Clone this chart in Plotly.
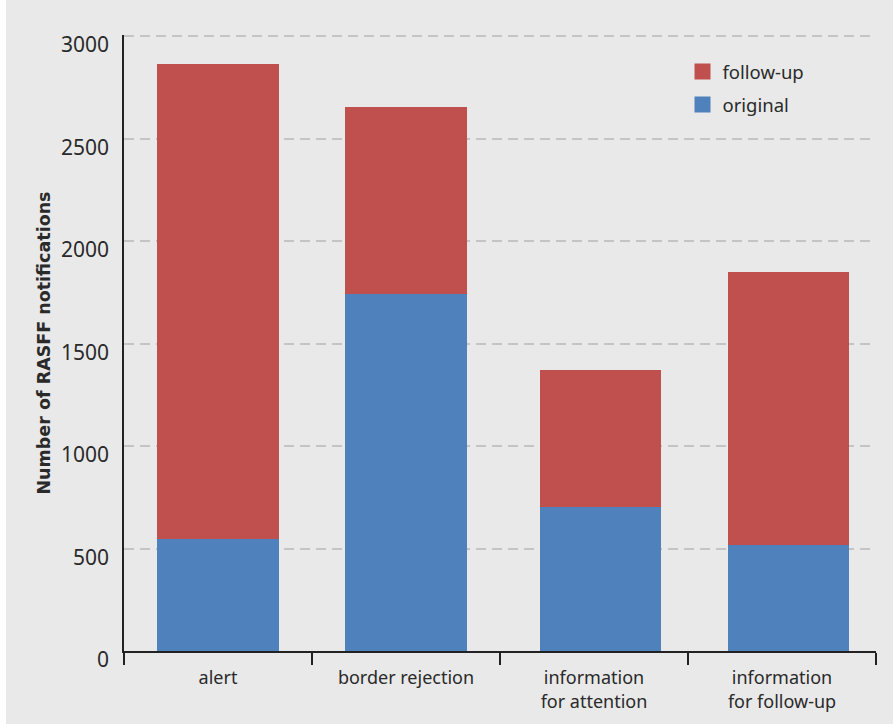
import plotly.graph_objects as go

categories = ["alert", "border rejection", "information<br>for attention", "information<br>for follow-up"]
original = [547, 1742, 703, 518]
follow_up = [2315, 911, 667, 1330]
y_ticks = [0, 500, 1000, 1500, 2000, 2500, 3000]

RED = "#C0504D"
BLUE = "#4F81BD"
BG = "#E9E9E9"
TXT = "#2a2a2a"
FONT = "Noto Sans"

BAR_W = 0.644
BAR_OFF = [-0.322, -0.322, -0.288, -0.288]

fig = go.Figure()
fig.add_trace(go.Bar(x=categories, y=original, name="original", width=BAR_W, offset=BAR_OFF,
                     marker=dict(color=BLUE, line=dict(width=0)), showlegend=False))
fig.add_trace(go.Bar(x=categories, y=follow_up, name="follow-up", width=BAR_W, offset=BAR_OFF,
                     marker=dict(color=RED, line=dict(width=0)), showlegend=False))

# legend entries (square swatches)
fig.add_trace(go.Scatter(x=[None], y=[None], mode="markers", name="follow-up", legendgroup="a",
                         marker=dict(symbol="square", size=19, color=RED)))
fig.add_trace(go.Scatter(x=[None], y=[None], mode="markers", name="original", legendgroup="b",
                         marker=dict(symbol="square", size=19, color=BLUE)))

fig.update_layout(
    width=893, height=724,
    barmode="stack",
    paper_bgcolor=BG, plot_bgcolor=BG,
    margin=dict(l=124, r=17, t=35, b=73, autoexpand=False),
    font=dict(family=FONT, size=18, color=TXT),
    legend=dict(x=0.7427, y=0.971, xanchor="left", yanchor="top",
                bgcolor="rgba(0,0,0,0)", font=dict(size=18.5, color=TXT),
                traceorder="grouped", tracegroupgap=6),
    xaxis=dict(type="category", showline=True, linecolor="#222", linewidth=1.5, automargin=False,
               range=[-0.5, 3.5],
               ticks="outside", tickson="boundaries", ticklen=12, tickcolor="#222", tickwidth=1.5,
               ticklabelstandoff=10,
               showgrid=False, tickfont=dict(size=18, color=TXT)),
    yaxis=dict(range=[0, 3005], tickvals=y_ticks, showline=True, linecolor="#222", linewidth=1.5,
               automargin=False,
               ticks="", showgrid=True, gridcolor="#C4C4C4", gridwidth=2, griddash="10px,6px",
               zeroline=False, ticklabelstandoff=9, ticklabelshift=9,
               tickfont=dict(size=21, color=TXT),
               title=dict(text="<b>Number of RASFF notifications</b>",
                          font=dict(family="DejaVu Sans", size=17.5, color=TXT), standoff=6)),
    shapes=[dict(type="rect", xref="paper", yref="paper", x0=-0.1649, x1=-0.1569, y0=-0.2, y1=1.1,
                 fillcolor="white", line=dict(width=0), layer="below")],
)

fig.write_html("out.html", config={"displayModeBar": False},
               post_script="document.body.style.margin='0';")
